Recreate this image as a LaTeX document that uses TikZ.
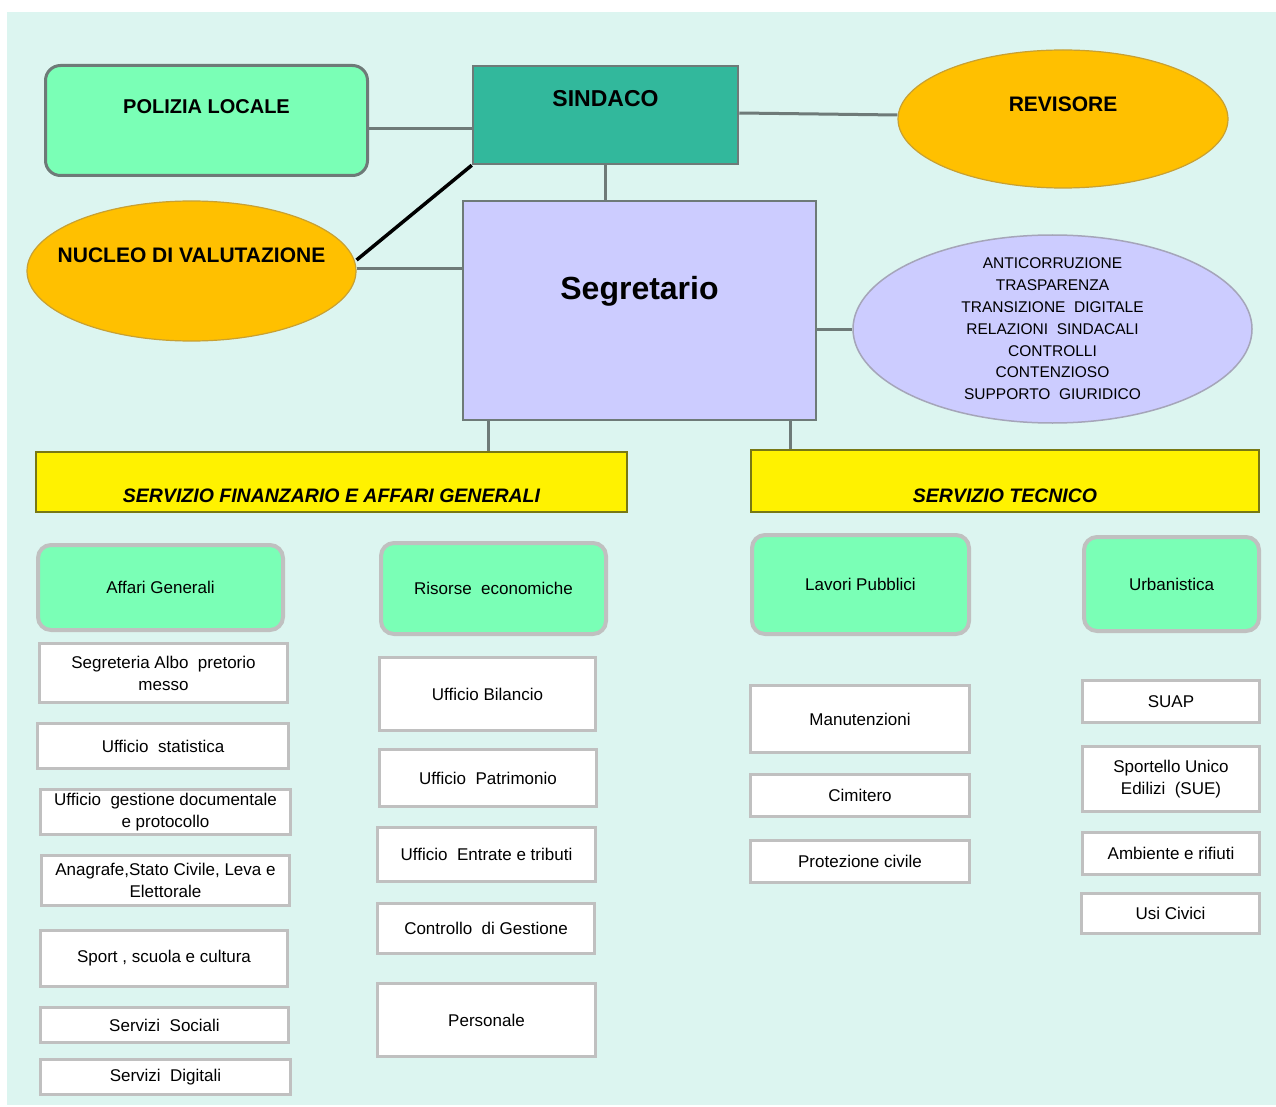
\documentclass[tikz,border=0pt]{standalone}
\usepackage{fontspec}
\setmainfont{Liberation Sans}
\usetikzlibrary{shapes.geometric}
\definecolor{bg}{RGB}{220,245,240}
\definecolor{mint}{RGB}{122,255,182}
\definecolor{tealbox}{RGB}{50,184,156}
\definecolor{lav}{RGB}{204,204,255}
\definecolor{gold}{RGB}{255,192,0}
\definecolor{goldline}{RGB}{200,160,50}
\definecolor{lineg}{RGB}{110,122,120}
\definecolor{lightg}{RGB}{192,192,192}
\definecolor{olivebd}{RGB}{120,120,20}
\definecolor{ellline}{RGB}{165,165,185}
\begin{document}
\begin{tikzpicture}[x=1pt,y=-1pt,
  conn/.style={draw=lineg,line width=3pt},
  sz/.style 2 args={minimum width=#1pt,minimum height=#2pt},
  topfont/.style={font=\fontsize{20}{24}\selectfont\bfseries},
  polbox/.style={draw=lineg,line width=3pt,fill=mint,rounded corners=15pt},
  sindbox/.style={draw=lineg,line width=2.5pt,fill=tealbox},
  goldell/.style={ellipse,draw=goldline,line width=1.2pt,fill=gold,inner sep=0pt,font=\fontsize{21}{25}\selectfont\bfseries},
  segbox/.style={draw=lineg,line width=2.5pt,fill=lav},
  lavell/.style={ellipse,draw=ellline,line width=1.5pt,fill=lav,inner xsep=0pt,inner ysep=-20pt,align=center,font=\fontsize{15.5}{21.8}\selectfont},
  servbox/.style={draw=olivebd,line width=2.5pt,fill=yellow,font=\fontsize{19.5}{23}\selectfont\bfseries\itshape,text depth=0pt},
  green2/.style={draw=lightg,line width=4pt,fill=mint,rounded corners=13pt,font=\fontsize{17}{20}\selectfont},
  wbox/.style={draw=lightg,line width=3.5pt,fill=white,align=center,font=\fontsize{17}{22}\selectfont}
]
\useasboundingbox (0,0) rectangle (1276,1107);
\fill[bg] (7,12) rectangle (1276,1105);

% helper coordinates
\coordinate (h129) at (0,129);
\coordinate (h260) at (0,260);
\coordinate (h268) at (0,268);
\coordinate (v488) at (488,0);
\coordinate (v790) at (790,0);

% top level
\node[polbox,sz={322}{110},topfont,text depth=27pt] (pol) at (206.5,120.5) {POLIZIA LOCALE};
\node[sindbox,sz={265}{98},font=\fontsize{23}{27}\selectfont\bfseries,text depth=34pt] (sind) at (605.5,115) {SINDACO};
\node[goldell,sz={330}{138},text depth=30pt] (rev) at (1063,119) {REVISORE};
\node[goldell,sz={329}{140},inner xsep=-30pt,text depth=32pt] (nuc) at (191.5,271) {NUCLEO DI VALUTAZIONE};
\node[segbox,sz={353}{219},font=\fontsize{32}{38}\selectfont\bfseries,text height=23pt,text depth=45pt] (seg) at (639.5,310.5) {Segretario};
\node[lavell,sz={399}{188}] (ell) at (1052.5,329) {ANTICORRUZIONE\\TRASPARENZA\\TRANSIZIONE\ \ DIGITALE\\RELAZIONI\ \ SINDACALI\\CONTROLLI\\CONTENZIOSO\\SUPPORTO\ \ GIURIDICO};

% services
\node[servbox,sz={591}{60},text height=40pt] (sfin) at (331.5,482) {SERVIZIO FINANZARIO E AFFARI GENERALI};
\node[servbox,sz={508}{62},text height=42pt] (stec) at (1005,481) {SERVIZIO TECNICO};

% second level
\node[green2,sz={245}{85}] (ag) at (160.5,587.5) {Affari Generali};
\node[green2,sz={225}{91}] (re) at (493.5,588.5) {Risorse\ \ economiche};
\node[green2,sz={217}{99}] (lp) at (860.5,584.5) {Lavori Pubblici};
\node[green2,sz={175}{94}] (ur) at (1171.5,584) {Urbanistica};

% column 1
\node[wbox,sz={248}{59}] (c11) at (163.5,673) {Segreteria Albo\ \ pretorio\\messo};
\node[wbox,sz={251}{45}] (c12) at (163,746) {Ufficio\ \ statistica};
\node[wbox,sz={250}{45}] (c13) at (165.5,812) {Ufficio\ \ gestione documentale\\e protocollo};
\node[wbox,sz={248}{50}] (c14) at (165.5,880.5) {Anagrafe,Stato Civile, Leva e\\Elettorale};
\node[wbox,sz={247}{56}] (c15) at (164,958.5) {Sport , scuola e cultura};
\node[wbox,sz={248}{35}] (c16) at (164.5,1025) {Servizi\ \ Sociali};
\node[wbox,sz={250}{35}] (c17) at (165.5,1077) {Servizi\ \ Digitali};

% column 2
\node[wbox,sz={216}{73}] (c21) at (487.5,694) {Ufficio Bilancio};
\node[wbox,sz={217}{57}] (c22) at (488,778) {Ufficio\ \ Patrimonio};
\node[wbox,sz={218}{54}] (c23) at (486.5,854.5) {Ufficio\ \ Entrate e tributi};
\node[wbox,sz={217}{50}] (c24) at (486,928.5) {Controllo\ \ di Gestione};
\node[wbox,sz={218}{73}] (c25) at (486.5,1020) {Personale};

% column 3
\node[wbox,sz={219}{67}] (c31) at (860,719) {Manutenzioni};
\node[wbox,sz={219}{42}] (c32) at (860,795.5) {Cimitero};
\node[wbox,sz={219}{42}] (c33) at (860,861.5) {Protezione civile};

% column 4
\node[wbox,sz={177}{42}] (c41) at (1171,701.5) {SUAP};
\node[wbox,sz={177}{65}] (c42) at (1171,779) {Sportello Unico\\Edilizi\ \ (SUE)};
\node[wbox,sz={177}{42}] (c43) at (1171,853.5) {Ambiente e rifiuti};
\node[wbox,sz={178}{40}] (c44) at (1170.5,913.5) {Usi Civici};

% connectors
\draw[conn] (pol.east |- h129) -- (sind.west |- h129);
\draw[conn] ([yshift=2pt]sind.east) -- ([yshift=4pt]rev.west);
\draw[conn] (sind.south) -- (sind.south |- seg.north);
\draw[black,line width=3.5pt] (nuc.east |- h260) -- (sind.south west);
\draw[conn] (nuc.east |- h268) -- (seg.west |- h268);
\draw[conn] (seg.east |- ell.west) -- (ell.west);
\draw[conn] (seg.south -| v488) -- (sfin.north -| v488);
\draw[conn] (seg.south -| v790) -- (stec.north -| v790);
\end{tikzpicture}
\end{document}
